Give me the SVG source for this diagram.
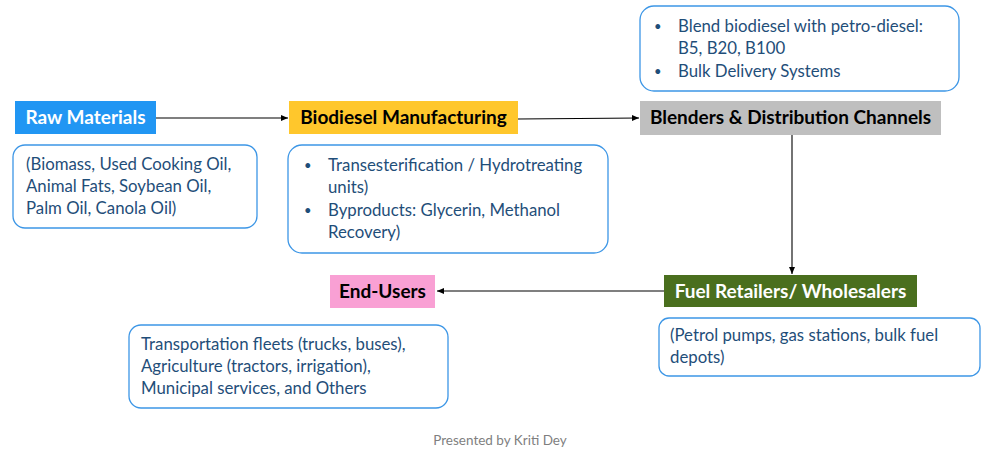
<svg xmlns="http://www.w3.org/2000/svg" width="1000" height="454" viewBox="0 0 1000 454">
<style>
.hd{font-family:Lato,"Liberation Sans",sans-serif;font-weight:bold;font-size:19px}
.ds{font-family:Lato,"Liberation Sans",sans-serif;font-size:16.8px;fill:#1F4E79}
.bl{font-family:Lato,"Liberation Sans",sans-serif;font-size:13px;fill:#1F4E79}
.db{fill:#fff;stroke:#3C96E6;stroke-width:1.3}
.cn{stroke:#000;stroke-width:1.1;fill:none;marker-end:url(#ah)}
</style>
<defs>
<marker id="ah" markerWidth="8" markerHeight="8" refX="7" refY="4" orient="auto" markerUnits="userSpaceOnUse">
<path d="M0,1 L7,4 L0,7 z" fill="#000"/>
</marker>
</defs>
<rect width="1000" height="454" fill="#fff"/>
<g id="connectors">
<line class="cn" x1="156" y1="118" x2="288" y2="118"/>
<line class="cn" x1="518" y1="119" x2="639" y2="118"/>
<line class="cn" x1="792" y1="135" x2="792" y2="274"/>
<line class="cn" x1="664" y1="291" x2="437" y2="291"/>
</g>
<g id="raw-materials">
<rect x="15" y="101" width="141" height="33" fill="#2196F3"/>
<text class="hd" x="85.5" y="124" text-anchor="middle" fill="#fff">Raw Materials</text>
<rect class="db" x="13" y="145" width="244" height="83" rx="12"/>
<text class="ds" x="26" y="170">(Biomass, Used Cooking Oil,</text>
<text class="ds" x="26" y="192">Animal Fats, Soybean Oil,</text>
<text class="ds" x="26" y="214">Palm Oil, Canola Oil)</text>
</g>
<g id="biodiesel-manufacturing">
<rect x="289" y="101" width="229" height="33" fill="#FFC72C"/>
<text class="hd" x="403.5" y="124" text-anchor="middle" fill="#000">Biodiesel Manufacturing</text>
<rect class="db" x="288" y="145" width="320" height="108" rx="14"/>
<text class="bl" x="304" y="170">•</text>
<text class="ds" x="328" y="171">Transesterification / Hydrotreating</text>
<text class="ds" x="328" y="193">units)</text>
<text class="bl" x="304" y="215">•</text>
<text class="ds" x="328" y="216">Byproducts: Glycerin, Methanol</text>
<text class="ds" x="328" y="238">Recovery)</text>
</g>
<g id="blenders">
<rect class="db" x="640" y="6" width="319" height="85" rx="14"/>
<text class="bl" x="654" y="31">•</text>
<text class="ds" x="678" y="32">Blend biodiesel with petro-diesel:</text>
<text class="ds" x="678" y="54">B5, B20, B100</text>
<text class="bl" x="654" y="76">•</text>
<text class="ds" x="678" y="77">Bulk Delivery Systems</text>
<rect x="640" y="101" width="301" height="34" fill="#BFBFBF"/>
<text class="hd" x="790.5" y="124" text-anchor="middle" fill="#000">Blenders &amp; Distribution Channels</text>
</g>
<g id="fuel-retailers">
<rect x="664" y="275" width="253" height="32" fill="#4A6F1E"/>
<text class="hd" x="790.5" y="298" text-anchor="middle" fill="#fff">Fuel Retailers/ Wholesalers</text>
<rect class="db" x="659" y="318" width="321" height="58" rx="10"/>
<text class="ds" x="670" y="341">(Petrol pumps, gas stations, bulk fuel</text>
<text class="ds" x="670" y="363">depots)</text>
</g>
<g id="end-users">
<rect x="330" y="275" width="105" height="33" fill="#F9A0D4"/>
<text class="hd" x="382.5" y="298" text-anchor="middle" fill="#000">End-Users</text>
<rect class="db" x="129" y="325" width="319" height="83" rx="12"/>
<text class="ds" x="141" y="350">Transportation fleets (trucks, buses),</text>
<text class="ds" x="141" y="372">Agriculture (tractors, irrigation),</text>
<text class="ds" x="141" y="394">Municipal services, and Others</text>
</g>
<text x="500" y="445" text-anchor="middle" font-family="Lato,'Liberation Sans',sans-serif" font-size="13.5" fill="#7F7F7F">Presented by Kriti Dey</text>
</svg>
